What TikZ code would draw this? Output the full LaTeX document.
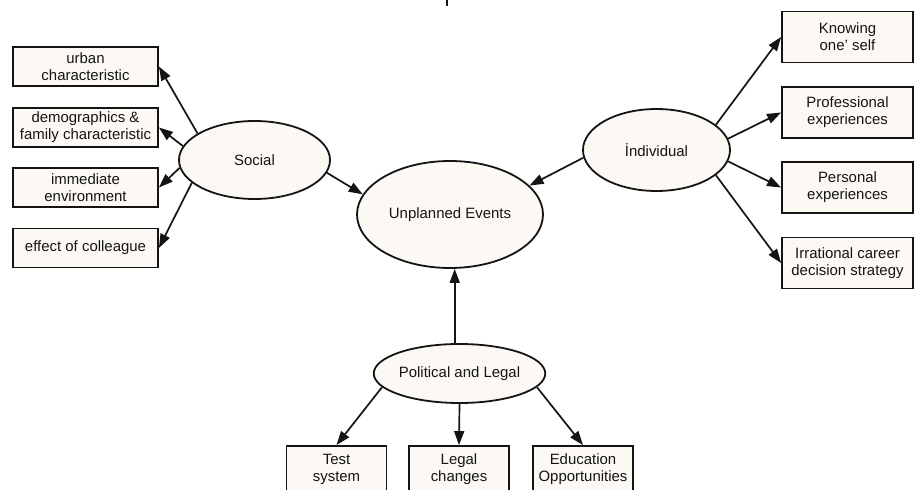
\documentclass[tikz,border=0pt]{standalone}
\usepackage{fontspec}
\setmainfont{Liberation Sans}
\usetikzlibrary{arrows.meta,shapes.geometric,calc}
\definecolor{cream}{HTML}{FCF9F4}
\definecolor{ink}{HTML}{141414}
\begin{document}
\begin{tikzpicture}[x=1bp,y=-1bp,
  every node/.style={font=\fontsize{15}{17}\selectfont, align=center, inner sep=0pt, text=ink},
  ell/.style={ellipse, draw=ink, fill=cream, line width=1.8bp},
  box/.style={rectangle, draw=ink, fill=cream, line width=1.8bp},
  lbox/.style={box, minimum width=145bp, minimum height=39bp},
  rbox/.style={box, minimum width=131bp, minimum height=51bp},
  bbox/.style={box, minimum width=100bp, minimum height=46bp},
  arr/.style={draw=ink, -{Triangle[length=14bp,width=10bp]}, line width=1.7bp}]
\useasboundingbox (0,0) rectangle (917,490);

% ellipses
\node[ell, minimum width=151bp, minimum height=78bp] (social) at (254.5,160) {Social};
\node[ell, minimum width=186bp, minimum height=107bp] (unpl) at (450,214.5) {Unplanned Events};
\node[ell, minimum width=147bp, minimum height=82bp] (indiv) at (656.5,150) {İndividual};
\node[ell, minimum width=147bp, minimum height=59bp] (polit) at (459.5,373.5) {Political and Legal};

% left boxes
\node[lbox] (urban) at (85.5,66.5) {urban\\characteristic};
\node[lbox] (demo) at (85.5,127.5) {demographics \&\\family characteristic};
\node[lbox] (immed) at (85.5,187.5) {immediate\\environment};
\node[lbox] (effect) at (85.5,248) {effect of colleague};

% right boxes
\node[rbox] (know) at (847.5,37) {Knowing\\one' self};
\node[rbox] (prof) at (847.5,112.5) {Professional\\experiences};
\node[rbox] (pers) at (847.5,187.5) {Personal\\experiences};
\node[rbox] (irr) at (847.5,263) {Irrational career\\decision strategy};

% bottom boxes
\node[bbox] (test) at (336.5,469) {Test\\system};
\node[bbox] (legal) at (459,469) {Legal\\changes};
\node[bbox] (edu) at (583,469) {Education\\Opportunities};

% top fragment
\coordinate (fa) at (447,-1);
\coordinate (fb) at (447,6);
\draw[draw=ink, line width=1.8bp] (fa) -- (fb);

% connectors
\draw[arr] (social.155.5) -- (urban.east);
\draw[arr] (social.169) -- (demo.east);
\draw[arr] (social.186) -- (immed.east);
\draw[arr] (social.200) -- (effect.east);
\draw[arr] (social.-10) -- (unpl.167);

\draw[arr] (indiv.186) -- (unpl.20.7);
\draw[arr] (indiv.23) -- (know.west);
\draw[arr] (indiv.9.5) -- (prof.west);
\draw[arr] (indiv.-9.5) -- (pers.west);
\draw[arr] (indiv.-23) -- (irr.west);

\draw[arr] (polit.99) -- (polit.99 |- unpl.south);
\draw[arr] (polit.190) -- (test.north);
\draw[arr] (polit.south) -- (legal.north);
\draw[arr] (polit.-10) -- (edu.north);
\end{tikzpicture}
\end{document}
